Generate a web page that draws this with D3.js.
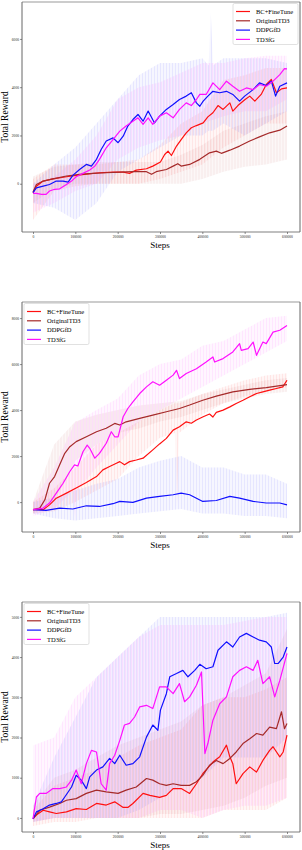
<!DOCTYPE html>
<html>
<head>
<meta charset="utf-8">
<script src="https://cdn.jsdelivr.net/npm/d3@7"></script>
<style>
body { margin: 0; background: #fff; }
svg { display: block; }
</style>
</head>
<body>
<div id="fig"></div>
<script>
// series names / colours (legend order)
const seriesNames = ["BC+FineTune", "OriginalTD3", "DDPGfD", "TD3fG"];
const seriesColors = ["#ff1010", "#a52a2a", "#1010ff", "#ff10ff"];

const xTicks = [0, 100000, 200000, 300000, 400000, 500000, 600000];

// ---- chart 1 : smoothed curves, [k steps, reward]
const c1BC = [[0,-370],[8,-100],[24,110],[47,200],[79,290],[102,345],[126,400],[157,455],[189,480],[213,480],[228,430],[244,565],[268,620],[283,730],[301,900],[311,1210],[319,1350],[327,1170],[339,1560],[353,1900],[362,2110],[374,2320],[386,2410],[402,2520],[413,2770],[425,2940],[437,3240],[449,3080],[465,3350],[472,3010],[484,3240],[501,3490],[512,3630],[524,3420],[539,3700],[551,4110],[563,4320],[575,3770],[587,3930],[600,3970]];
const c1TD3 = [[0,-340],[8,-30],[24,110],[47,200],[79,320],[110,390],[142,430],[173,455],[205,480],[236,500],[268,500],[280,390],[291,500],[315,590],[331,730],[342,830],[350,730],[370,800],[394,1010],[417,1280],[433,1350],[445,1260],[465,1390],[488,1560],[512,1770],[535,1940],[559,2110],[583,2220],[600,2390]];
const c1DDPG = [[0,-370],[8,-170],[24,-100],[39,-30],[55,110],[71,110],[83,70],[94,345],[110,590],[126,800],[138,730],[150,1010],[161,1420],[173,1770],[189,1900],[201,1700],[213,1970],[224,2390],[236,2660],[248,2870],[260,2590],[272,3010],[287,2520],[299,2800],[315,3080],[331,3280],[346,3490],[362,3630],[374,3770],[386,3350],[394,3210],[402,3420],[413,3630],[425,3830],[441,3770],[457,3830],[472,3700],[488,3420],[500,3630],[520,3900],[535,4180],[551,4070],[563,4250],[573,3630],[583,4040],[600,4180]];
const c1TD3fG = [[0,-400],[8,-400],[20,-440],[31,-440],[39,-300],[51,-230],[63,-210],[79,-30],[91,110],[102,290],[118,430],[134,570],[146,730],[157,1010],[173,1490],[189,1830],[205,2180],[220,2390],[236,2590],[248,2730],[260,2460],[272,2730],[283,2460],[299,2800],[315,2940],[331,2730],[346,3080],[362,3350],[374,3240],[386,3490],[394,3700],[409,3700],[425,4180],[441,3900],[457,4250],[472,4040],[488,3830],[504,3970],[520,3900],[535,4110],[551,4040],[567,4250],[583,4520],[594,4770],[600,4760]];
// chart 1 : raw spread, [k steps, low, high]
const c1BCband = [[0,-1500,200],[50,-300,800],[100,-100,800],[150,0,800],[200,0,900],[250,0,1000],[300,200,1600],[350,500,2500],[400,800,3000],[450,1500,4300],[500,2000,4500],[550,2500,4800],[600,2500,4800]];
const c1TD3band = [[0,-800,300],[50,-200,700],[100,0,800],[150,0,900],[200,0,900],[250,0,900],[300,0,900],[350,0,1200],[400,200,1600],[450,500,2200],[500,700,2500],[550,800,2800],[600,1000,3000]];
const c1DDPGband = [[0,-800,0],[50,-1000,800],[100,-1500,1500],[150,-800,2500],[200,500,3500],[250,1000,4500],[300,1500,5000],[350,2000,5000],[400,2000,5200],[415,2200,4900],[420,2200,7100],[425,2200,4900],[450,2500,5200],[500,2000,5200],[550,2500,5200],[600,3000,5000]];
const c1TD3fGband = [[0,-1200,0],[50,-800,300],[100,-300,1000],[150,0,2000],[200,1000,3500],[250,1500,4000],[300,1800,4200],[350,2000,4600],[400,2500,5000],[450,2800,5000],[500,3000,5200],[550,3000,5300],[600,3500,5300]];

// ---- chart 2
const c2BC = [[0,-330],[24,-330],[39,-120],[55,170],[79,390],[102,610],[126,850],[150,1110],[165,1400],[181,1550],[197,1690],[205,1760],[216,1620],[228,1760],[244,1830],[260,1910],[283,2270],[299,2530],[315,2770],[331,3130],[346,3280],[362,3490],[374,3430],[386,3570],[402,3710],[417,3830],[425,3700],[433,3900],[449,4000],[465,4140],[480,4290],[496,4430],[512,4580],[528,4720],[543,4790],[559,4870],[575,4940],[590,5010],[600,5300]];
const c2TD3 = [[0,-330],[16,-260],[28,100],[39,820],[51,1110],[63,1620],[75,2120],[87,2410],[102,2630],[126,2840],[150,3060],[173,3210],[193,3420],[205,3350],[220,3490],[252,3640],[283,3780],[315,3930],[346,4070],[370,4220],[401,4430],[433,4610],[472,4790],[512,4900],[551,4980],[600,5110]];
const c2DDPG = [[0,-330],[31,-360],[63,-260],[94,-300],[126,-160],[157,-190],[189,-70],[205,30],[236,-10],[268,170],[299,250],[331,320],[350,390],[370,320],[401,30],[433,70],[465,250],[488,170],[520,30],[551,-40],[583,-40],[600,-120]];
const c2TD3fG = [[0,-330],[24,-260],[39,-40],[55,390],[71,820],[87,1330],[98,1620],[106,1570],[118,2190],[128,2480],[134,2340],[146,1910],[157,2120],[173,2560],[185,3060],[193,2840],[201,2840],[213,3710],[224,4070],[236,4360],[252,4720],[268,5010],[283,5230],[299,5080],[315,5300],[331,5520],[339,5730],[346,5370],[362,5590],[386,5800],[409,6090],[425,6310],[429,6090],[449,6240],[472,6530],[488,6890],[492,6600],[508,6670],[520,6960],[528,6380],[543,6960],[551,6890],[567,7390],[583,7470],[600,7680]];
const c2BCband = [[0,-500,0],[50,-400,600],[100,0,1500],[150,500,2500],[200,1000,3000],[250,2000,3500],[300,2800,4000],[335,3000,4300],[340,-200,4300],[345,3000,4300],[400,3800,4700],[450,4300,5000],[500,4600,5300],[550,4800,5500],[600,5000,5600]];
const c2TD3band = [[0,-500,0],[50,0,2500],[100,1800,3500],[150,2500,3800],[200,3000,4000],[250,3200,4200],[300,3500,4300],[350,3700,4400],[400,4000,4700],[450,4300,4900],[500,4500,5100],[550,4700,5300],[600,4800,5400]];
const c2DDPGband = [[0,-500,0],[50,-700,200],[100,-800,500],[150,-700,800],[200,-600,1000],[250,-500,1500],[300,-400,1800],[350,-300,2000],[400,-500,1500],[450,-500,1500],[500,-600,1200],[550,-600,1200],[600,-700,800]];
const c2TD3fGband = [[0,-600,0],[50,-300,1500],[95,500,3300],[100,-900,3500],[105,500,3500],[150,1500,4000],[200,2500,4500],[250,3500,5500],[300,4000,6000],[350,4500,6200],[400,5000,6800],[450,5500,7000],[500,6000,7500],[550,6500,8000],[600,7000,8100]];

// ---- chart 3
const c3BC = [[0,-20],[8,70],[24,190],[39,150],[55,110],[79,150],[102,230],[126,210],[150,360],[173,320],[193,400],[213,260],[224,260],[236,360],[260,610],[276,560],[299,510],[315,560],[331,730],[350,730],[370,610],[386,850],[401,1100],[425,1390],[441,1520],[457,1810],[465,1520],[472,1350],[480,850],[496,1100],[512,1270],[528,1140],[543,1430],[559,1680],[567,1770],[583,1520],[591,1640],[600,2060]];
const c3TD3 = [[0,-20],[16,190],[39,270],[63,360],[79,440],[102,480],[126,610],[150,690],[173,650],[201,610],[220,690],[244,770],[268,980],[283,940],[299,850],[315,810],[331,850],[350,810],[370,810],[386,900],[401,1060],[417,1310],[433,1430],[449,1350],[465,1480],[480,1640],[496,1850],[512,1970],[528,2100],[543,2060],[559,2260],[575,2220],[587,2640],[594,2220],[600,2350]];
const c3DDPG = [[0,-20],[8,150],[24,230],[39,320],[55,360],[67,400],[75,520],[91,770],[102,1060],[114,940],[126,730],[134,1020],[150,1190],[165,1270],[181,1480],[193,1350],[205,1560],[220,1310],[236,1350],[252,1520],[268,2010],[283,2310],[295,2180],[301,2680],[315,3090],[323,3510],[339,3590],[354,3670],[366,3510],[382,3670],[394,3820],[409,3710],[425,3760],[437,4170],[457,4380],[472,4250],[488,4500],[504,4590],[520,4500],[535,4420],[551,4380],[563,4250],[571,3840],[579,3840],[591,4000],[600,4250]];
const c3TD3fG = [[0,-20],[8,520],[16,610],[31,610],[47,730],[63,730],[79,770],[91,940],[102,1190],[114,850],[126,1350],[138,1680],[150,1640],[161,850],[173,690],[181,1350],[193,1560],[205,1930],[216,2310],[228,2350],[240,2510],[252,2760],[268,2800],[283,2720],[299,3260],[315,3260],[331,3090],[346,3340],[358,2890],[370,3010],[386,3300],[398,3630],[406,1600],[413,1850],[425,2430],[441,2840],[457,3010],[472,3510],[488,3670],[504,3760],[520,3670],[531,3920],[543,3340],[559,3510],[571,3010],[583,3420],[600,4090]];
const c3BCband = [[0,-200,200],[50,-100,800],[100,-100,1000],[150,0,1200],[200,0,1500],[250,0,1800],[300,0,2000],[350,0,2200],[400,0,2800],[450,200,3000],[500,200,3000],[550,200,3200],[600,500,3500]];
const c3TD3band = [[0,-100,300],[50,0,1000],[100,0,1200],[150,0,1500],[200,0,1800],[250,0,2000],[300,100,2200],[350,100,2400],[400,200,2800],[450,300,3000],[500,500,3300],[550,800,3600],[600,1000,4700]];
const c3DDPGband = [[0,-100,300],[50,0,1500],[100,0,2500],[150,0,3500],[200,0,4000],[250,200,4500],[300,500,5000],[350,800,5000],[400,1000,5000],[450,1500,5000],[500,1500,5000],[550,1500,5000],[600,2000,5100]];
const c3TD3fGband = [[0,-100,1800],[50,0,2000],[100,0,3000],[150,0,3500],[200,0,4000],[250,0,4500],[300,200,4800],[350,200,4800],[400,0,4800],[450,200,4800],[500,300,4900],[550,300,5000],[600,500,5000]];

const yTicks1 = [0, 2000, 4000, 6000];
const yTicks2 = [0, 2000, 4000, 6000, 8000];
const yTicks3 = [0, 1000, 2000, 3000, 4000, 5000];

const charts = [
    {top: 2, yDomain: [-2000, 7530], yTicks: yTicks1, legend: "right",
     lines: [c1BC, c1TD3, c1DDPG, c1TD3fG], bands: [c1BCband, c1TD3band, c1DDPGband, c1TD3fGband]},
    {top: 302, yDomain: [-1300, 8700], yTicks: yTicks2, legend: "left",
     lines: [c2BC, c2TD3, c2DDPG, c2TD3fG], bands: [c2BCband, c2TD3band, c2DDPGband, c2TD3fGband]},
    {top: 602, yDomain: [-350, 5370], yTicks: yTicks3, legend: "left",
     lines: [c3BC, c3TD3, c3DDPG, c3TD3fG], bands: [c3BCband, c3TD3band, c3DDPGband, c3TD3fGband]}
];

var width = 302, height = 850;
var left = 22, right = 300, plotH = 230;
var font = "'Liberation Serif', 'DejaVu Serif', serif";

var svg = d3.select("#fig").append("svg")
    .attr("width", width)
    .attr("height", height)
    .attr("viewBox", [0, 0, width, height]);

// thin vertical hatching so the raw spread reads like spiky noise
var defs = svg.append("defs");
seriesColors.forEach((col, i) => {
    var p = defs.append("pattern")
        .attr("id", "hatch" + i)
        .attr("patternUnits", "userSpaceOnUse")
        .attr("width", 3).attr("height", 7);
    p.append("rect").attr("width", 3).attr("height", 7).attr("fill", col).attr("fill-opacity", 0.04);
    p.append("rect").attr("x", i * 0.7).attr("width", 0.6).attr("height", 7).attr("fill", col).attr("fill-opacity", 0.12);
});

var x = d3.scaleLinear()
    .domain([-26000, 630700])
    .range([left, right]);

charts.forEach((c, ci) => {
    var top = c.top, bottom = top + plotH;
    var y = d3.scaleLinear().domain(c.yDomain).range([bottom, top]);
    var g = svg.append("g");

    g.append("clipPath").attr("id", "clip" + ci)
        .append("rect")
        .attr("x", left).attr("y", top)
        .attr("width", right - left).attr("height", plotH);

    var plot = g.append("g").attr("clip-path", `url(#clip${ci})`);

    var area = d3.area()
        .x(d => x(d[0] * 1000))
        .y0(d => y(d[1]))
        .y1(d => y(d[2]));

    var line = d3.line()
        .x(d => x(d[0] * 1000))
        .y(d => y(d[1]));

    c.bands.forEach((b, i) => {
        plot.append("path")
            .datum(b)
            .attr("fill", `url(#hatch${i})`)
            .attr("d", area);
    });

    c.lines.forEach((l, i) => {
        plot.append("path")
            .datum(l)
            .attr("fill", "none")
            .attr("stroke", seriesColors[i])
            .attr("stroke-width", 1.2)
            .attr("stroke-linejoin", "round")
            .attr("d", line);
    });

    // frame
    g.append("line").attr("x1", left).attr("x2", right).attr("y1", top).attr("y2", top)
        .attr("stroke", "#bbb").attr("stroke-width", 1.5);
    g.append("line").attr("x1", left).attr("x2", right).attr("y1", bottom).attr("y2", bottom)
        .attr("stroke", "#aaa").attr("stroke-width", 1.5);
    g.append("line").attr("x1", left).attr("x2", left).attr("y1", top).attr("y2", bottom)
        .attr("stroke", "#666").attr("stroke-width", 1);
    g.append("line").attr("x1", right).attr("x2", right).attr("y1", top).attr("y2", bottom)
        .attr("stroke", "#666").attr("stroke-width", 1);

    // axes
    var xAxis = g.append("g")
        .attr("transform", `translate(0,${bottom})`)
        .call(d3.axisBottom(x).tickValues(xTicks).tickFormat(d3.format("d")).tickSize(2).tickPadding(1));
    var yAxis = g.append("g")
        .attr("transform", `translate(${left},0)`)
        .call(d3.axisLeft(y).tickValues(c.yTicks).tickFormat(d3.format("d")).tickSize(2).tickPadding(1));
    [xAxis, yAxis].forEach(a => {
        a.select(".domain").remove();
        a.selectAll(".tick line").attr("stroke", "#444").attr("stroke-width", 0.6);
        a.selectAll(".tick text").attr("font-family", font).attr("font-size", 3.6).attr("fill", "#222");
    });

    g.append("text")
        .attr("x", x(300000))
        .attr("y", bottom + 16)
        .attr("text-anchor", "middle")
        .attr("font-family", font)
        .attr("font-size", 9)
        .text("Steps");

    g.append("text")
        .attr("transform", `translate(8,${(top + bottom) / 2}) rotate(-90)`)
        .attr("text-anchor", "middle")
        .attr("font-family", font)
        .attr("font-size", 9.5)
        .text("Total Reward");

    // legend
    var lx = c.legend === "right" ? 233 : 24;
    var ly = top + 1.5;
    var leg = g.append("g").attr("transform", `translate(${lx},${ly})`);
    leg.append("rect")
        .attr("width", 65).attr("height", 41)
        .attr("rx", 1.5)
        .attr("fill", "#fff").attr("fill-opacity", 0.85)
        .attr("stroke", "#ccc").attr("stroke-width", 0.6);
    seriesNames.forEach((n, i) => {
        var yy = 8 + i * 9.3;
        leg.append("line")
            .attr("x1", 3).attr("x2", 17).attr("y1", yy).attr("y2", yy)
            .attr("stroke", seriesColors[i]).attr("stroke-width", 1.2);
        leg.append("text")
            .attr("x", 23).attr("y", yy + 2.2)
            .attr("font-family", font)
            .attr("font-size", 6.5)
            .text(n);
    });
});
</script>
</body>
</html>
